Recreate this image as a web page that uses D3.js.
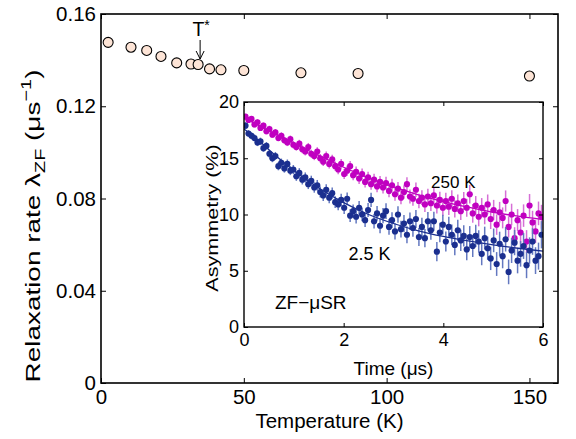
<!DOCTYPE html>
<html><head><meta charset="utf-8">
<script src="https://cdn.jsdelivr.net/npm/d3@7/dist/d3.min.js"></script>
<style>body{margin:0;background:#fff}svg{display:block}text{font-family:"Liberation Sans",Arial,sans-serif;fill:#000}</style>
</head><body><svg id="c" width="576" height="439"></svg>
<script>
// Main panel: relaxation rate vs temperature
const temps = [2.5, 10.5, 16, 21, 26.5, 31.5, 34, 38, 42, 50, 70, 90, 150];
const lambdaZF = [0.1477, 0.1456, 0.1442, 0.1416, 0.1388, 0.1383, 0.1381, 0.1362, 0.1358, 0.1355, 0.1345, 0.1342, 0.1331];
const xTicksMain = [0, 50, 100, 150];
const yTicksMain = [0, 0.04, 0.08, 0.12, 0.16];

// Inset: asymmetry vs time
const times = [0.03,0.09,0.15,0.21,0.27,0.33,0.39,0.45,0.51,0.57,0.63,0.69,0.75,0.81,0.87,0.93,0.99,1.05,1.11,1.17,1.23,1.29,1.35,1.41,1.47,1.53,1.59,1.65,1.71,1.77,1.83,1.89,1.95,2.01,2.07,2.13,2.19,2.25,2.31,2.37,2.43,2.49,2.55,2.61,2.67,2.73,2.79,2.85,2.91,2.97,3.03,3.09,3.15,3.21,3.27,3.33,3.39,3.45,3.51,3.57,3.63,3.69,3.75,3.81,3.87,3.93,3.99,4.05,4.11,4.17,4.23,4.29,4.35,4.41,4.47,4.53,4.59,4.65,4.71,4.77,4.83,4.89,4.95,5.01,5.07,5.13,5.19,5.25,5.31,5.37,5.43,5.49,5.55,5.61,5.67,5.73,5.79,5.85,5.91,5.97];
const asym250K = [18.7,18.4,18.5,18.0,18.2,17.7,17.9,17.4,17.6,17.1,17.3,16.8,17.0,16.6,16.4,16.7,16.2,16.0,16.3,15.8,15.6,16.0,15.4,15.2,15.6,15.0,14.7,15.2,14.5,14.9,14.3,14.0,14.5,13.6,13.9,14.3,13.5,13.8,13.2,13.6,12.9,13.3,12.7,13.1,12.5,12.9,12.4,12.8,12.1,12.6,11.8,12.3,11.5,12.0,12.7,11.6,11.4,12.2,11.2,11.5,10.9,11.6,11.0,11.7,10.8,11.3,10.6,11.2,10.7,11.4,10.5,11.0,10.3,11.2,10.6,11.8,10.1,10.8,9.8,10.6,10.0,10.9,9.6,10.4,9.1,10.2,9.7,11.2,8.9,10.0,7.9,9.5,8.4,9.9,7.6,10.8,9.3,8.5,10.1,9.8];
const err250K = [0.25,0.25,0.26,0.26,0.27,0.27,0.28,0.28,0.29,0.29,0.3,0.3,0.31,0.31,0.32,0.32,0.33,0.33,0.34,0.35,0.35,0.36,0.36,0.37,0.38,0.38,0.39,0.4,0.4,0.41,0.42,0.42,0.43,0.44,0.45,0.45,0.46,0.47,0.48,0.48,0.49,0.5,0.51,0.52,0.52,0.53,0.54,0.55,0.56,0.57,0.58,0.58,0.59,0.6,0.61,0.62,0.63,0.64,0.65,0.66,0.67,0.68,0.69,0.7,0.71,0.72,0.73,0.74,0.75,0.76,0.77,0.78,0.79,0.8,0.81,0.82,0.83,0.84,0.85,0.86,0.87,0.88,0.89,0.9,0.91,0.92,0.93,0.94,0.95,0.96,0.97,0.98,0.99,1.0,1.01,1.02,1.03,1.04,1.05,1.06];
const asym2p5K = [17.9,17.2,17.0,16.8,16.4,16.5,15.9,16.1,15.4,15.0,15.2,14.3,14.6,14.1,14.5,13.9,14.0,13.4,13.7,13.1,13.3,12.7,13.0,12.4,12.6,12.0,11.7,12.2,11.5,11.9,11.1,10.9,11.3,10.6,11.4,9.9,10.3,9.8,10.6,10.0,9.5,10.4,11.3,9.4,10.1,9.0,9.9,10.3,8.9,9.5,8.5,10.0,8.7,9.2,8.2,9.4,8.8,9.6,8.0,8.9,7.9,9.4,8.6,9.4,6.7,8.4,9.1,7.6,8.9,8.2,7.3,8.6,7.7,8.1,6.9,8.0,7.2,8.1,7.6,6.5,7.9,7.0,6.1,7.7,5.6,7.4,6.3,7.8,4.9,6.8,7.5,5.9,6.5,7.2,5.5,6.8,7.6,5.9,6.3,8.2];
const err2p5K = [0.3,0.3,0.31,0.31,0.32,0.33,0.33,0.34,0.35,0.35,0.36,0.37,0.37,0.38,0.39,0.4,0.4,0.41,0.42,0.43,0.44,0.44,0.45,0.46,0.47,0.48,0.49,0.5,0.5,0.51,0.52,0.53,0.54,0.55,0.56,0.57,0.58,0.59,0.6,0.61,0.62,0.63,0.64,0.65,0.66,0.67,0.68,0.69,0.7,0.71,0.72,0.73,0.74,0.75,0.76,0.77,0.78,0.79,0.8,0.81,0.82,0.83,0.84,0.85,0.86,0.87,0.88,0.89,0.9,0.91,0.92,0.93,0.94,0.95,0.96,0.97,0.98,0.99,1.0,1.01,1.02,1.03,1.04,1.05,1.06,1.07,1.08,1.09,1.1,1.11,1.12,1.13,1.14,1.15,1.16,1.17,1.18,1.19,1.2,1.21];
const fitTimes = [0, 0.25, 0.5, 1, 1.5, 2, 2.5, 3, 3.5, 4, 4.5, 5, 5.5, 6];
const fit250K = [18.6, 18.0, 17.45, 16.35, 15.25, 14.2, 13.25, 12.45, 11.75, 11.15, 10.65, 10.2, 9.85, 9.55];
const fit2p5K = [17.6, 16.75, 15.75, 13.9, 12.35, 11.05, 10.0, 9.2, 8.55, 8.05, 7.65, 7.3, 7.0, 6.75];
const xTicksInset = [0, 2, 4, 6];
const yTicksInset = [0, 5, 10, 15, 20];

const svg = d3.select("#c");
const col250 = "#c000c0", col2p5 = "#1b2f8f";

// ---------- main axes ----------
const M = {l:101, r:558, t:14, b:383};
const x = d3.scaleLinear().domain([0,160]).range([M.l, M.r]);
const y = d3.scaleLinear().domain([0,0.16]).range([M.b, M.t]);
const tk = 5;

const gMain = svg.append("g");
gMain.append("g").attr("transform",`translate(0,${M.b})`)
  .call(d3.axisBottom(x).tickValues(xTicksMain).tickSizeInner(-tk).tickSizeOuter(0).tickPadding(6).tickFormat(d3.format("d")));
gMain.append("g").attr("transform",`translate(0,${M.t})`)
  .call(d3.axisTop(x).tickValues(xTicksMain).tickSizeInner(-tk).tickSizeOuter(0).tickFormat(""));
gMain.append("g").attr("transform",`translate(${M.l},0)`)
  .call(d3.axisLeft(y).tickValues(yTicksMain).tickSizeInner(-tk).tickSizeOuter(0).tickPadding(5).tickFormat(d => d===0 ? "0" : d3.format(".2f")(d)));
gMain.append("g").attr("transform",`translate(${M.r},0)`)
  .call(d3.axisRight(y).tickValues(yTicksMain).tickSizeInner(-tk).tickSizeOuter(0).tickFormat(""));
gMain.selectAll(".domain").remove();
gMain.selectAll(".tick line").attr("stroke","#000").attr("stroke-width",1);
gMain.selectAll(".tick text").style("font-size","20.5px").attr("fill","#000");
gMain.append("rect").attr("x",M.l).attr("y",M.t).attr("width",M.r-M.l).attr("height",M.b-M.t)
  .attr("fill","none").attr("stroke","#000").attr("stroke-width",1.6);

gMain.selectAll("circle.pt").data(temps).join("circle").attr("class","pt")
  .attr("cx",(d)=>x(d)).attr("cy",(d,i)=>y(lambdaZF[i])).attr("r",5)
  .attr("fill","#fde4d6").attr("stroke","#000").attr("stroke-width",1.1);

// T* annotation
const tStarX = x(34) + 2;
svg.append("text").attr("x",tStarX+1).attr("y",36).attr("text-anchor","middle").style("font-size","19.5px")
  .text("T").append("tspan").attr("dy",-6).style("font-size","14px").text("*");
svg.append("path").attr("d",`M${tStarX},40 V59 M${tStarX-4},51 L${tStarX},59 L${tStarX+4},51`)
  .attr("fill","none").attr("stroke","#000").attr("stroke-width",1);

// axis titles
svg.append("text").attr("x",(M.l+M.r)/2).attr("y",428).attr("text-anchor","middle").style("font-size","20.5px").text("Temperature (K)");
const yt = svg.append("text").attr("transform","translate(40,226) rotate(-90) scale(1.33,1)").attr("text-anchor","middle").style("font-size","21px");
yt.append("tspan").text("Relaxation rate λ");
yt.append("tspan").attr("dy",5).style("font-size","15px").text("ZF");
yt.append("tspan").attr("dy",-5).text(" (μs");
yt.append("tspan").attr("dy",-9).style("font-size","15px").text("−1");
yt.append("tspan").attr("dy",9).text(")");

// ---------- inset ----------
const I = {l:244, r:543, t:102, b:327};
const xi = d3.scaleLinear().domain([0,6]).range([I.l, I.r]);
const yi = d3.scaleLinear().domain([0,20]).range([I.b, I.t]);
const gIn = svg.append("g");
gIn.append("rect").attr("x",I.l).attr("y",I.t).attr("width",I.r-I.l).attr("height",I.b-I.t).attr("fill","#fff");

gIn.append("clipPath").attr("id","ic").append("rect")
  .attr("x",I.l).attr("y",I.t).attr("width",I.r-I.l).attr("height",I.b-I.t);
const gData = gIn.append("g").attr("clip-path","url(#ic)");

function drawSeries(vals, errs, fitVals, color, lightColor){
  const g = gData.append("g");
  g.selectAll("line.err").data(times).join("line").attr("class","err")
    .attr("x1",d=>xi(d)).attr("x2",d=>xi(d))
    .attr("y1",(d,i)=>yi(vals[i]-errs[i])).attr("y2",(d,i)=>yi(vals[i]+errs[i]))
    .attr("stroke",lightColor).attr("stroke-width",1.5);
  g.append("path").datum(fitTimes)
    .attr("d", d3.line().x(d=>xi(d)).y((d,i)=>yi(fitVals[i])).curve(d3.curveMonotoneX))
    .attr("fill","none").attr("stroke",color).attr("stroke-width",1.3);
  g.selectAll("circle").data(times).join("circle")
    .attr("cx",d=>xi(d)).attr("cy",(d,i)=>yi(vals[i])).attr("r",3.1).attr("fill",color);
}
drawSeries(asym250K, err250K, fit250K, col250, "#d66fd6");
drawSeries(asym2p5K, err2p5K, fit2p5K, col2p5, "#6378c0");

gIn.append("g").attr("transform",`translate(0,${I.b})`)
  .call(d3.axisBottom(xi).tickValues(xTicksInset).tickSizeInner(-4).tickSizeOuter(0).tickPadding(6).tickFormat(d3.format("d")));
gIn.append("g").attr("transform",`translate(0,${I.t})`)
  .call(d3.axisTop(xi).tickValues(xTicksInset).tickSizeInner(-4).tickSizeOuter(0).tickFormat(""));
gIn.append("g").attr("transform",`translate(${I.l},0)`)
  .call(d3.axisLeft(yi).tickValues(yTicksInset).tickSizeInner(-4).tickSizeOuter(0).tickPadding(5).tickFormat(d3.format("d")));
gIn.append("g").attr("transform",`translate(${I.r},0)`)
  .call(d3.axisRight(yi).tickValues(yTicksInset).tickSizeInner(-4).tickSizeOuter(0).tickFormat(""));
gIn.selectAll(".domain").remove();
gIn.selectAll(".tick line").attr("stroke","#000");
gIn.selectAll(".tick text").style("font-size","18px").attr("fill","#000");
gIn.append("rect").attr("x",I.l).attr("y",I.t).attr("width",I.r-I.l).attr("height",I.b-I.t)
  .attr("fill","none").attr("stroke","#000").attr("stroke-width",1.4);

svg.append("text").attr("x",(I.l+I.r)/2).attr("y",375).attr("text-anchor","middle").style("font-size","19px").text("Time (μs)");
svg.append("text").attr("transform",`translate(218,218) rotate(-90) scale(1.27,1)`).attr("text-anchor","middle").style("font-size","17px").text("Asymmetry (%)");
svg.append("text").attr("x",xi(1.34)).attr("y",yi(1.6)).attr("text-anchor","middle").style("font-size","19px").text("ZF−μSR");
svg.append("text").attr("x",xi(4.2)).attr("y",yi(12.4)).attr("text-anchor","middle").style("font-size","17px").text("250 K");
svg.append("text").attr("x",xi(2.52)).attr("y",yi(6.0)).attr("text-anchor","middle").style("font-size","18px").text("2.5 K");
</script></body></html>
